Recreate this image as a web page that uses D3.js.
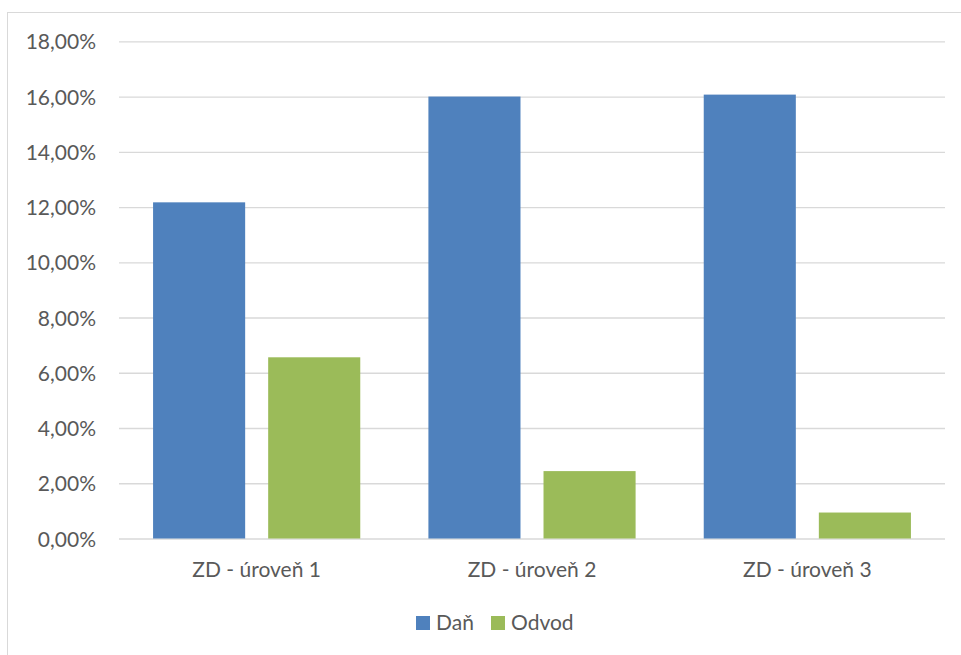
<!DOCTYPE html>
<html>
<head>
<meta charset="utf-8">
<script src="https://cdn.jsdelivr.net/npm/d3@7"></script>
<style>
  html, body { margin: 0; padding: 0; background: #fff; }
  svg { display: block; }
  text { font-family: Lato, "Open Sans", sans-serif; fill: #595959; }
</style>
</head>
<body>
<svg id="chart" width="961" height="655"></svg>
<script>
// Data
const categories = ["ZD - úroveň 1", "ZD - úroveň 2", "ZD - úroveň 3"];
const seriesNames = ["Daň", "Odvod"];
const dan = [0.1217, 0.1600, 0.1607];
const odvod = [0.0656, 0.0244, 0.0094];
const yTicks = [0, 0.02, 0.04, 0.06, 0.08, 0.10, 0.12, 0.14, 0.16, 0.18];
const colors = ["#4f81bd", "#9bbb59"];

const seriesValues = [dan, odvod];
const rows = categories.map((c, i) => ({
  category: c,
  values: seriesNames.map((s, j) => ({ series: s, value: seriesValues[j][i] }))
}));

const svg = d3.select("#chart");
const fontSize = 21;

// Chart frame
svg.append("rect")
  .attr("x", 7.5).attr("y", 12.5)
  .attr("width", 1100).attr("height", 800)
  .attr("fill", "#fff")
  .attr("stroke", "#d9d9d9").attr("stroke-width", 1);

const plot = { left: 119, right: 945, top: 41.3, bottom: 538.5 };

const x0 = d3.scaleBand().domain(categories).range([plot.left, plot.right]).padding(0);
const x1 = d3.scaleBand().domain(seriesNames).range([0, x0.bandwidth()])
  .paddingInner(0.2).paddingOuter(0.296);
const y = d3.scaleLinear().domain([0, 0.18]).range([plot.bottom, plot.top]);

const locale = d3.formatLocale({ decimal: ",", thousands: " ", grouping: [3], currency: ["", " Kč"] });
const pct = locale.format(".2%");

// Y axis with gridlines
const yAxis = svg.append("g")
  .attr("transform", `translate(${plot.left},0)`)
  .call(d3.axisLeft(y).tickValues(yTicks).tickFormat(pct)
    .tickSize(-(plot.right - plot.left)).tickPadding(23));
yAxis.select(".domain").remove();
yAxis.selectAll(".tick line").attr("stroke", "#d9d9d9").attr("stroke-width", 1.3);
yAxis.selectAll(".tick text")
  .attr("font-size", fontSize).attr("dy", "0.36em")
  .style("font-family", "Lato, 'Open Sans', sans-serif").attr("fill", "#595959");

// Bars
const groups = svg.append("g").selectAll("g")
  .data(rows).join("g")
  .attr("transform", d => `translate(${x0(d.category)},0)`);

groups.selectAll("rect")
  .data(d => d.values).join("rect")
  .attr("x", d => x1(d.series))
  .attr("width", x1.bandwidth())
  .attr("y", d => y(d.value))
  .attr("height", d => y(0) - y(d.value))
  .attr("fill", (d, i) => colors[i]);

// X axis labels
const xAxis = svg.append("g")
  .attr("transform", `translate(0,${plot.bottom})`)
  .call(d3.axisBottom(x0).tickSize(0).tickPadding(24));
xAxis.select(".domain").remove();
xAxis.selectAll(".tick text")
  .attr("font-size", fontSize)
  .style("font-family", "Lato, 'Open Sans', sans-serif").attr("fill", "#595959");

// Legend
const legendX = [416, 491];
const legend = svg.append("g").selectAll("g")
  .data(seriesNames).join("g")
  .attr("transform", (d, i) => `translate(${legendX[i]},616)`);
legend.append("rect")
  .attr("width", 14).attr("height", 14)
  .attr("fill", (d, i) => colors[i]);
legend.append("text")
  .attr("x", 20).attr("y", 14)
  .attr("font-size", fontSize)
  .text(d => d);
</script>
</body>
</html>
